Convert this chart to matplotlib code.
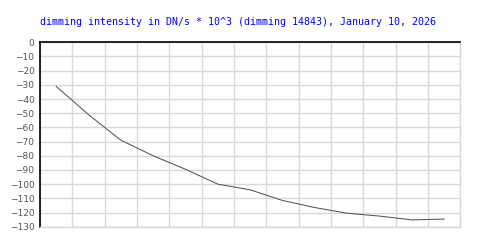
import numpy as np
import matplotlib
matplotlib.use("Agg")
import matplotlib.pyplot as plt

# hourly points, drawn at the middle of each grid slot
slots = np.arange(13) + 0.5
dimming = [-31, -51, -69, -80, -89.5, -100, -104, -111.5, -116.5, -120.5, -122.5, -125.2, -124.6]
yticks = list(range(-130, 1, 10))

fig = plt.figure(figsize=(5, 2.5), dpi=100)
ax = fig.add_axes([0.08, 0.0932, 0.8406, 0.7376])

ax.plot(slots, dimming, color="#555555", linewidth=0.75)

ax.set_xlim(0, 13)
ax.set_ylim(-130, 0)
ax.set_xticks(range(14))
ax.set_xticklabels([])
ax.set_yticks(yticks)
ax.set_yticklabels([str(v).replace("-", "\u2212") for v in yticks], fontsize=6.5,
                   color="#555555", family="DejaVu Sans")
ax.tick_params(length=0, pad=4)
ax.grid(True, color="#d9d9d9", linewidth=1.0)
ax.set_axisbelow(True)

for side in ("right", "bottom"):
    ax.spines[side].set_color("#d9d9d9")
    ax.spines[side].set_linewidth(1.0)
for side in ("top", "left"):
    ax.spines[side].set_color("black")
    ax.spines[side].set_linewidth(1.2)

fig.text(0.475, 0.911, "dimming intensity in DN/s * 10^3 (dimming 14843), January 10, 2026",
         color="blue", fontsize=7.2, family="DejaVu Sans Mono", ha="center", va="center")

fig.savefig("out.png", dpi=100)
